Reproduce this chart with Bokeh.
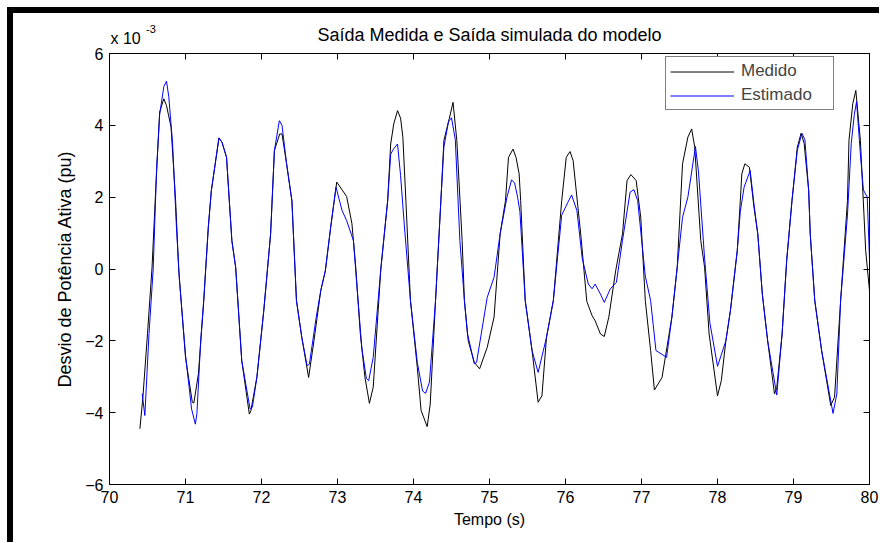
from bokeh.plotting import figure
from bokeh.models import LinearAxis, FixedTicker, Legend, LegendItem, Range1d, Title, Label
from bokeh.embed import file_html
from bokeh.resources import INLINE

# ---- data (values in units of 1e-3 pu) ----
t_medido = [70.40, 70.44, 70.50, 70.56, 70.61, 70.66, 70.715, 70.75, 70.81, 70.87,
            70.91, 71.00, 71.09, 71.11, 71.17, 71.24, 71.30, 71.34, 71.44, 71.48,
            71.54, 71.61, 71.66, 71.74, 71.84, 71.86, 71.94, 72.03, 72.12, 72.17,
            72.24, 72.27, 72.33, 72.40, 72.46, 72.53, 72.62, 72.69, 72.78, 72.84,
            72.91, 72.99, 73.12, 73.19, 73.24, 73.30, 73.36, 73.42, 73.47, 73.57,
            73.66, 73.70, 73.74, 73.79, 73.83, 73.86, 73.90, 73.96, 74.05, 74.10,
            74.18, 74.22, 74.29, 74.36, 74.40, 74.47, 74.52, 74.57, 74.64, 74.67,
            74.72, 74.80, 74.87, 74.97, 75.06, 75.14, 75.21, 75.25, 75.31, 75.35,
            75.39, 75.41, 75.47, 75.56, 75.64, 75.69, 75.75, 75.84, 75.95, 76.01,
            76.06, 76.10, 76.20, 76.28, 76.35, 76.39, 76.46, 76.51, 76.57, 76.66,
            76.75, 76.81, 76.86, 76.93, 76.99, 77.05, 77.12, 77.17, 77.27, 77.40,
            77.47, 77.54, 77.61, 77.66, 77.70, 77.78, 77.83, 77.89, 78.00, 78.05,
            78.11, 78.17, 78.26, 78.30, 78.32, 78.36, 78.42, 78.48, 78.53, 78.59,
            78.66, 78.75, 78.78, 78.85, 78.91, 78.98, 79.05, 79.10, 79.14, 79.20,
            79.22, 79.28, 79.37, 79.49, 79.54, 79.62, 79.71, 79.73, 79.78, 79.82,
            79.88, 79.95, 80.00]
v_medido = [-4.45, -3.55, -1.80, 0.05, 2.30, 4.37, 4.74, 4.55, 3.95, 1.90,
            0.00, -2.46, -3.71, -3.73, -2.92, -0.88, 1.16, 2.18, 3.65, 3.53,
            3.11, 0.79, 0.05, -2.55, -4.04, -3.95, -3.00, -1.16, 0.98, 3.30,
            3.76, 3.76, 2.93, 1.90, -0.88, -1.90, -3.02, -2.00, -0.60, -0.05,
            1.16, 2.42, 2.02, 1.26, 0.05, -1.80, -3.00, -3.74, -3.29, 0.00,
            1.90, 3.48, 4.04, 4.41, 4.20, 3.67, 1.90, -0.88, -2.74, -3.94,
            -4.39, -3.76, -0.88, 1.90, 3.58, 4.18, 4.64, 3.58, 0.79, -0.88,
            -2.00, -2.60, -2.78, -2.18, -1.34, 0.98, 1.90, 3.11, 3.34, 3.10,
            2.65, 1.90, -0.88, -2.27, -3.71, -3.53, -1.90, -0.88, 1.90, 3.11,
            3.27, 3.02, 0.98, -0.90, -1.30, -1.44, -1.81, -1.88, -1.34, -0.05,
            0.98, 2.46, 2.63, 2.46, 1.44, -0.88, -2.27, -3.37, -3.02, -1.34,
            0.05, 2.93, 3.67, 3.90, 3.40, 0.79, 0.05, -1.81, -3.53, -3.11,
            -2.00, -1.16, 0.51, 1.90, 2.65, 2.93, 2.83, 1.72, 0.98, -0.70,
            -2.00, -3.48, -3.30, -1.81, 0.23, 1.90, 3.39, 3.78, 3.50, 2.18,
            0.98, -0.88, -2.27, -3.80, -3.57, -0.88, 1.90, 3.58, 4.60, 4.97,
            3.58, 0.51, -0.60]

t_estimado = [70.43, 70.465, 70.52, 70.575, 70.62, 70.66, 70.715, 70.75, 70.78, 70.83,
              70.88, 70.92, 71.00, 71.08, 71.13, 71.15, 71.20, 71.24, 71.30, 71.34,
              71.44, 71.48, 71.54, 71.61, 71.66, 71.74, 71.85, 71.88, 71.94, 72.03,
              72.12, 72.17, 72.235, 72.27, 72.33, 72.40, 72.46, 72.53, 72.60, 72.63,
              72.72, 72.78, 72.84, 72.91, 72.98, 73.06, 73.12, 73.21, 73.26, 73.32,
              73.38, 73.41, 73.47, 73.57, 73.66, 73.70, 73.74, 73.79, 73.83, 73.88,
              73.96, 74.05, 74.12, 74.16, 74.21, 74.29, 74.36, 74.40, 74.46, 74.50,
              74.55, 74.61, 74.67, 74.71, 74.80, 74.83, 74.97, 75.06, 75.14, 75.23,
              75.29, 75.33, 75.37, 75.40, 75.47, 75.56, 75.64, 75.75, 75.84, 75.95,
              76.03, 76.08, 76.15, 76.22, 76.30, 76.35, 76.39, 76.46, 76.51, 76.59,
              76.67, 76.75, 76.85, 76.90, 76.95, 77.05, 77.12, 77.19, 77.33, 77.40,
              77.47, 77.54, 77.61, 77.71, 77.75, 77.83, 77.90, 78.00, 78.11, 78.17,
              78.26, 78.30, 78.35, 78.43, 78.48, 78.53, 78.59, 78.66, 78.78, 78.85,
              78.91, 78.98, 79.05, 79.11, 79.15, 79.20, 79.22, 79.28, 79.37, 79.52,
              79.57, 79.62, 79.71, 79.76, 79.80, 79.83, 79.88, 79.92, 79.97, 80.00]
v_estimado = [-3.47, -4.08, -1.80, 0.00, 2.80, 4.30, 5.08, 5.23, 4.80, 3.50,
              1.20, -0.30, -2.40, -3.90, -4.32, -4.03, -2.00, -0.88, 1.16, 2.18,
              3.65, 3.53, 3.11, 0.79, 0.05, -2.55, -3.90, -3.85, -3.00, -1.16,
              0.98, 3.30, 4.13, 4.00, 2.93, 1.90, -0.88, -1.90, -2.69, -2.65,
              -1.34, -0.60, -0.05, 1.16, 2.28, 1.63, 1.35, 0.79, -0.60, -2.20,
              -3.05, -3.11, -2.46, 0.00, 1.90, 3.20, 3.35, 3.48, 2.60, 1.20,
              -0.88, -2.60, -3.40, -3.46, -3.15, -0.88, 1.90, 3.40, 4.10, 4.21,
              3.60, 0.80, -0.88, -1.80, -2.64, -2.60, -0.79, -0.23, 0.98, 2.00,
              2.48, 2.40, 2.00, 1.60, -0.88, -2.27, -2.88, -1.90, -0.88, 1.50,
              1.85, 2.06, 1.63, 0.30, -0.42, -0.55, -0.42, -0.70, -0.93, -0.55,
              -0.37, 0.80, 2.14, 2.21, 1.90, -0.20, -0.88, -2.27, -2.46, -1.34,
              0.05, 1.44, 2.00, 3.41, 2.70, 0.30, -1.50, -2.71, -2.00, -1.16,
              0.51, 1.60, 2.28, 2.74, 1.80, 0.98, -0.70, -2.00, -3.51, -1.81,
              0.23, 1.90, 3.30, 3.78, 3.60, 2.18, 0.98, -0.88, -2.27, -4.02,
              -3.48, -0.88, 1.50, 3.50, 4.30, 4.66, 3.20, 2.20, 2.00, 0.28]

x_ticks = [70, 71, 72, 73, 74, 75, 76, 77, 78, 79, 80]
y_ticks = [-6, -4, -2, 0, 2, 4, 6]
title_text = "Saída Medida e Saída simulada do modelo"
exp_base = "x 10"
exp_power = "-3"
x_label = "Tempo (s)"
y_label = "Desvio de Potência Ativa (pu)"
series_names = ["Medido", "Estimado"]
series_colors = ["#000000", "#0000ff"]

FONT = "Liberation Sans"

p = figure(frame_width=760, frame_height=431,
           x_range=Range1d(70, 80), y_range=Range1d(-6, 6),
           output_backend="svg", toolbar_location=None,
           min_border_left=96, min_border_right=10,
           min_border_top=40, min_border_bottom=58,
           x_axis_label=x_label, y_axis_label=y_label)
p.title_location = None
p.styles = {"margin-left": "7px", "margin-top": "7px",
            "border-left": "6px solid black", "border-top": "6px solid black"}
p.background_fill_color = "white"
p.border_fill_color = "white"
p.outline_line_color = "black"
p.outline_line_width = 1
p.xgrid.visible = False
p.ygrid.visible = False


def style_axis(ax, ticks, labels=True):
    ax.ticker = FixedTicker(ticks=ticks, minor_ticks=[])
    ax.major_tick_in = 6
    ax.major_tick_out = 0
    ax.minor_tick_in = 0
    ax.minor_tick_out = 0
    ax.major_tick_line_color = "black"
    ax.axis_line_color = "black"
    if labels:
        ax.major_label_text_font = FONT
        ax.major_label_text_font_size = "16px"
        ax.major_label_text_color = "black"
        ax.major_label_standoff = 6
        ax.axis_label_text_font = FONT
        ax.axis_label_text_font_style = "normal"
        ax.axis_label_text_color = "black"
    else:
        ax.major_label_text_font_size = "0px"
        ax.major_label_text_color = None
        ax.major_label_standoff = 0


style_axis(p.xaxis[0], x_ticks)
p.xaxis[0].axis_label_text_font_size = "16px"
p.xaxis[0].axis_label_standoff = 5
style_axis(p.yaxis[0], y_ticks)
p.yaxis[0].axis_label_text_font_size = "18px"
p.yaxis[0].axis_label_standoff = 7

top_axis = LinearAxis()
style_axis(top_axis, x_ticks, labels=False)
p.add_layout(top_axis, "above")
right_axis = LinearAxis()
style_axis(right_axis, y_ticks, labels=False)
p.add_layout(right_axis, "right")

# main title, just above the top axis
main_title = Title(text=title_text, align="center", standoff=17,
                   text_font=FONT, text_font_size="18px", text_font_style="normal",
                   text_color="black")
p.add_layout(main_title, "above")

# axis multiplier "x 10^-3", anchored at the top-left corner of the axes
exp_label = Label(x=70, y=6, x_offset=1, y_offset=15, text=exp_base,
                  text_align="left", text_baseline="middle",
                  text_font=FONT, text_font_size="16px", text_color="black")
pow_label = Label(x=70, y=6, x_offset=36.5, y_offset=24.5, text=exp_power,
                  text_align="left", text_baseline="middle",
                  text_font=FONT, text_font_size="11px", text_color="black")
p.add_layout(exp_label, "left")
p.add_layout(pow_label, "right")

r1 = p.line(t_medido, v_medido, line_color=series_colors[0], line_width=1)
r2 = p.line(t_estimado, v_estimado, line_color=series_colors[1], line_width=1)

legend = Legend(items=[LegendItem(label=series_names[0], renderers=[r1]),
                       LegendItem(label=series_names[1], renderers=[r2])],
                location=(556, 374),
                label_text_font=FONT, label_text_font_size="17px",
                glyph_width=64, glyph_height=19, label_height=19,
                label_width=88, label_standoff=7, spacing=4, padding=4,
                border_line_color="black", border_line_width=1,
                background_fill_color="white", background_fill_alpha=1.0)
p.add_layout(legend)

open("out.html", "w").write(file_html(p, INLINE))
